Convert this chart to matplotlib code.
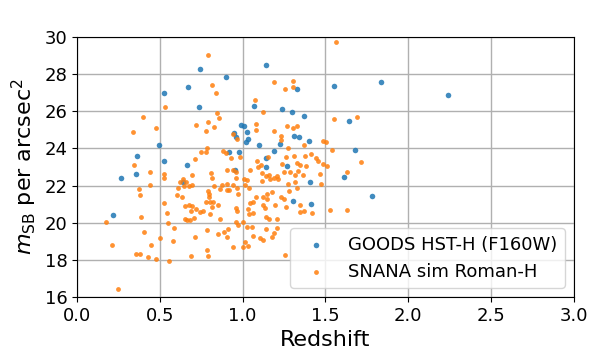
import matplotlib
matplotlib.use("Agg")
import matplotlib.pyplot as plt

# GOODS HST-H (F160W)
goods_z = [1.141, 0.742, 0.899, 0.670, 0.525, 1.328, 0.736, 1.068, 1.237, 1.298,
           1.370, 0.990, 1.008, 0.948, 0.960, 1.026, 1.032, 1.020, 1.098, 1.310,
           1.340, 1.400, 1.225, 0.917, 0.978, 1.189, 1.141, 1.141, 1.267, 0.954,
           0.495, 0.362, 0.525, 0.664, 0.266, 0.356, 0.640, 0.217, 1.406, 1.304,
           1.412, 1.551, 1.835, 2.239, 1.642, 1.678, 1.611, 1.780]
goods_m = [28.49, 28.28, 27.85, 27.31, 26.98, 27.20, 26.23, 26.28, 26.12, 25.96,
           25.75, 25.26, 25.21, 24.83, 24.62, 24.88, 24.51, 24.35, 24.18, 24.67,
           24.62, 24.40, 24.24, 23.81, 23.81, 23.86, 23.48, 23.00, 23.05, 22.84,
           24.18, 23.59, 23.32, 23.11, 22.41, 22.62, 22.19, 20.42, 22.19, 21.17,
           21.01, 27.36, 27.58, 26.88, 25.48, 23.91, 22.46, 21.44]

# SNANA sim Roman-H
sim_z = [0.791, 0.815, 0.839, 1.189, 1.304, 1.255, 1.304, 1.563, 0.531, 0.398,
         1.074, 1.123, 0.845, 0.857, 1.551, 1.690,
         0.338, 0.477, 0.718, 0.791, 0.827, 0.778, 1.080, 1.080, 1.189, 1.267,
         1.304, 1.328, 1.231, 1.231, 0.941, 0.966, 1.370, 1.273, 1.485, 1.503,
         0.785, 1.539,
         0.748, 0.778, 0.712, 0.881, 0.899, 0.929, 0.984, 1.086, 1.110, 1.153,
         1.261, 1.310, 1.376, 1.412, 1.442, 1.454, 1.485, 1.328, 1.346, 1.382,
         1.237, 1.714, 0.344,
         0.441, 0.525, 0.525, 0.694, 0.809, 0.905, 0.941, 0.960, 0.960, 0.640,
         0.622, 0.658, 1.044, 1.092, 1.116, 1.159, 1.249, 1.285, 1.334, 1.364,
         1.316, 1.008, 1.026, 1.466, 1.509, 1.629, 1.141, 1.165, 1.189, 1.207,
         1.213, 1.116, 1.316, 1.273, 0.815, 1.014, 0.441,
         0.610, 0.646, 0.676, 0.694, 0.374, 0.380, 0.604, 0.634, 0.791, 0.797,
         0.797, 0.827, 0.863, 0.905, 0.905, 0.917, 0.941, 0.875, 0.972, 0.966,
         1.038, 1.177, 1.147, 1.147, 1.080, 1.123, 1.279, 1.231, 1.249, 1.328,
         1.473,
         0.525, 0.652, 0.676, 0.694, 0.688, 0.718, 0.742, 0.760, 0.778, 0.803,
         0.821, 0.815, 0.851, 0.960, 0.966, 0.803, 1.044, 1.062, 1.032, 1.123,
         1.135, 1.195, 1.261, 1.346, 1.346, 1.370, 1.418, 1.527, 1.629, 1.038,
         1.062, 0.543,
         0.386, 0.175, 0.549, 0.585, 0.652, 0.664, 0.682, 0.706, 0.863, 0.960,
         1.002, 0.972, 1.141, 1.159, 1.207, 1.207, 1.141, 1.189, 1.177, 1.104,
         1.062, 1.123, 1.026, 1.056, 0.785, 0.851, 0.887, 0.911, 0.905, 0.404,
         0.712, 0.501,
         0.579, 0.211, 0.447, 1.014, 1.032, 1.002, 0.941, 0.785, 0.791, 0.688,
         0.356, 0.380, 0.428, 0.477, 0.555, 1.255, 0.247]
sim_m = [29.03, 27.42, 26.98, 27.58, 27.63, 27.20, 27.31, 29.73, 26.23, 25.69,
         26.61, 25.96, 25.91, 25.64, 25.58, 25.69,
         24.88, 25.10, 25.26, 25.42, 25.15, 24.94, 25.31, 24.99, 24.94, 25.21,
         25.10, 25.21, 24.67, 24.45, 24.78, 24.51, 24.18, 24.02, 24.40, 24.35,
         24.02, 23.91,
         23.81, 23.81, 23.43, 23.86, 23.75, 23.48, 23.54, 23.32, 23.11, 23.54,
         23.54, 23.59, 23.59, 23.70, 23.48, 23.32, 23.16, 23.22, 23.11, 23.05,
         23.16, 23.27, 23.11,
         22.73, 22.62, 22.41, 22.57, 22.68, 22.84, 22.84, 22.73, 22.41, 22.35,
         22.19, 22.19, 22.84, 23.00, 22.68, 22.57, 22.73, 22.73, 22.78, 22.57,
         22.57, 22.35, 22.30, 22.62, 23.05, 22.73, 22.51, 22.35, 22.41, 22.51,
         22.35, 22.25, 22.19, 22.08, 22.40, 22.03, 22.03,
         21.87, 21.98, 21.98, 22.03, 21.81, 21.49, 21.49, 21.38, 21.71, 21.55,
         21.38, 21.98, 21.81, 22.08, 21.76, 21.76, 22.03, 22.03, 21.55, 21.87,
         21.87, 21.65, 21.55, 21.28, 21.38, 21.38, 21.71, 21.38, 21.28, 21.87,
         22.08,
         21.06, 20.90, 20.95, 20.90, 20.63, 20.74, 20.58, 20.63, 21.11, 21.11,
         21.11, 20.85, 20.95, 20.79, 20.63, 20.47, 21.06, 21.11, 20.74, 20.95,
         20.79, 20.95, 20.85, 20.95, 20.58, 20.63, 20.52, 20.68, 20.68, 20.47,
         20.52, 20.52,
         20.31, 20.04, 19.98, 19.71, 20.20, 20.15, 20.15, 20.25, 20.20, 20.04,
         20.04, 19.88, 20.31, 20.20, 20.20, 19.71, 19.66, 19.45, 19.23, 19.18,
         19.28, 19.07, 19.77, 19.77, 19.61, 19.39, 19.50, 19.66, 19.23, 19.50,
         19.23, 19.18,
         19.01, 18.80, 18.80, 18.96, 18.75, 18.69, 18.69, 18.53, 18.21, 18.21,
         18.31, 18.31, 18.15, 18.05, 17.94, 18.26, 16.43]

labels = ["GOODS HST-H (F160W)", "SNANA sim Roman-H"]
xticks = [0.0, 0.5, 1.0, 1.5, 2.0, 2.5, 3.0]
yticks = [16, 18, 20, 22, 24, 26, 28, 30]

fig = plt.figure(figsize=(5.97, 3.59), dpi=100)
ax = fig.add_axes([0.129, 0.173, 0.832, 0.724])
ax.scatter(goods_z, goods_m, s=16, color="#1f77b4", alpha=0.85, lw=0, label=labels[0], zorder=3)
ax.scatter(sim_z, sim_m, s=12, color="#ff7f0e", alpha=0.85, lw=0, label=labels[1], zorder=3)
ax.set_xlim(0, 3.0)
ax.set_ylim(16, 30)
ax.set_xticks(xticks)
ax.set_yticks(yticks)
ax.tick_params(labelsize=13)
ax.grid(True, color="#b0b0b0", lw=1)
ax.set_axisbelow(True)
ax.set_xlabel("Redshift", fontsize=16)
ax.set_ylabel(r"$m_{\rm SB}$ per arcsec$^2$", fontsize=16)
ax.legend(loc="lower right", fontsize=13, markerscale=1.0)
fig.savefig("out.png", dpi=100)
